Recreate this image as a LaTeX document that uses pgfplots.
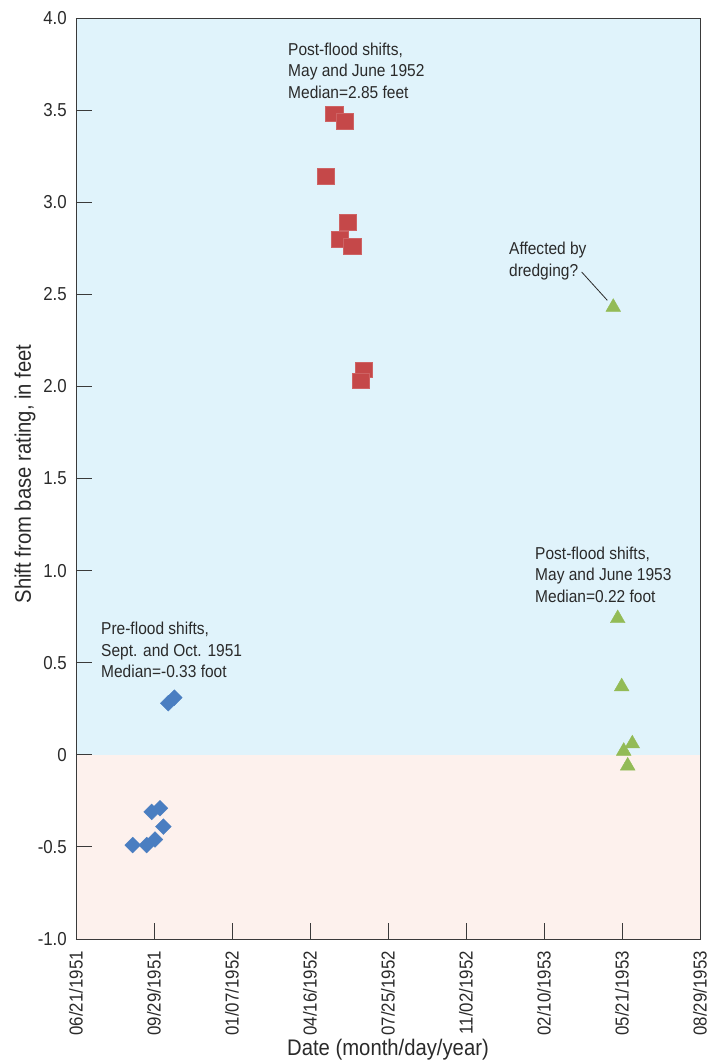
\documentclass[border=0pt]{standalone}
\usepackage{fontspec}
\setmainfont{Liberation Sans}[FakeStretch=0.9]
\usepackage{pgfplots}
\pgfplotsset{compat=1.18}

\definecolor{txt}{HTML}{2A2A2A}
\definecolor{axisgray}{HTML}{3A3A3A}
\definecolor{bgblue}{HTML}{E0F3FB}
\definecolor{bgpink}{HTML}{FDF1ED}
\definecolor{preblue}{HTML}{4A7EC1}
\definecolor{postred}{HTML}{C54849}
\definecolor{postgreen}{HTML}{93BB56}

% x = days after 06/21/1951, y = shift from base rating (feet)
\pgfplotstableread{
x y
126.0 0.31
118.3 0.28
97.0 -0.31
107.7 -0.29
112.0 -0.39
72.7 -0.49
90.6 -0.49
101.3 -0.46
}\preflood
\pgfplotstableread{
x y
331.0 3.48
344.5 3.44
320.5 3.14
348.3 2.89
337.6 2.80
354.2 2.76
369.0 2.09
365.4 2.03
}\postflooda
\pgfplotstableread{
x y
688.8 2.43
694.5 0.74
699.6 0.37
713.2 0.06
702.2 0.02
707.3 -0.06
}\postfloodb

\newcommand{\chartfont}{\fontsize{17.3}{21.3}\selectfont}
\newcommand{\tickfont}{\fontsize{18.8}{22}\selectfont}
\newcommand{\labelfont}{\fontsize{22.6}{27}\selectfont}

\begin{document}
\begin{tikzpicture}[x=1bp,y=1bp]
\path[use as bounding box] (-76,-124) rectangle (642,939);
\begin{axis}[
  at={(0,0)}, anchor=south west,
  scale only axis, width=624bp, height=921bp,
  xmin=0, xmax=800, ymin=-1, ymax=4,
  axis on top,
  axis line style={axisgray, line width=0.9bp},
  every tick/.style={axisgray, line width=0.9bp},
  tick align=inside, major tick length=16bp,
  xtick pos=bottom, ytick pos=left,
  xtick={0,100,...,800},
  xticklabels={06/21/1951,09/29/1951,01/07/1952,04/16/1952,07/25/1952,11/02/1952,02/10/1953,05/21/1953,08/29/1953},
  ytick={-1,-0.5,0,0.5,1,1.5,2,2.5,3,3.5,4},
  yticklabels={-1.0,-0.5,0,0.5,1.0,1.5,2.0,2.5,3.0,3.5,4.0},
  every tick label/.append style={font=\tickfont, text=txt, inner sep=0pt},
  xticklabel style={rotate=90, anchor=east},
  xticklabel shift=12bp,
  yticklabel style={anchor=east},
  yticklabel shift=9bp,
  xlabel={Date (month/day/year)},
  ylabel={Shift from base rating, in feet},
  every axis x label/.style={at={(axis description cs:0.5,-0.1205)}, anchor=center, font=\labelfont, text=txt},
  every axis y label/.style={at={(axis description cs:-0.0817,0.505)}, rotate=90, anchor=center, font=\labelfont, text=txt},
  clip=false,
]
% shaded bands above and below zero shift
\fill[bgblue] (axis cs:0,0) rectangle (axis cs:800,4);
\fill[bgpink] (axis cs:0,-1) rectangle (axis cs:800,0);

\addplot[only marks, mark=square*, mark size=5.6bp, mark options={rotate=45, fill=preblue, draw=preblue}] table[x=x,y=y] {\preflood};
\addplot[only marks, mark=square*, mark size=7.8bp, mark options={xscale=1.1, fill=postred, draw=postred!85!white}] table[x=x,y=y] {\postflooda};
\addplot[only marks, mark=triangle*, mark size=8.5bp, mark options={fill=postgreen, draw=postgreen}] table[x=x,y=y] {\postfloodb};

\node[anchor=north west, align=left, inner sep=0pt, font=\chartfont, text=txt] at (axis cs:32.05,0.72)
  {Pre-flood shifts,\\Sept. and Oct. 1951\\Median=-0.33 foot};
\node[anchor=north west, align=left, inner sep=0pt, font=\chartfont, text=txt] at (axis cs:271.8,3.864)
  {Post-flood shifts,\\May and June 1952\\Median=2.85 feet};
\node[anchor=north west, align=left, inner sep=0pt, font=\chartfont, text=txt] at (axis cs:555.1,2.783)
  {Affected by\\dredging?};
\node[anchor=north west, align=left, inner sep=0pt, font=\chartfont, text=txt] at (axis cs:588.5,1.128)
  {Post-flood shifts,\\May and June 1953\\Median=0.22 foot};
\draw[txt, line width=0.8bp] (axis cs:648.3,2.621) -- (axis cs:681.2,2.467);
\end{axis}
\end{tikzpicture}
\end{document}
